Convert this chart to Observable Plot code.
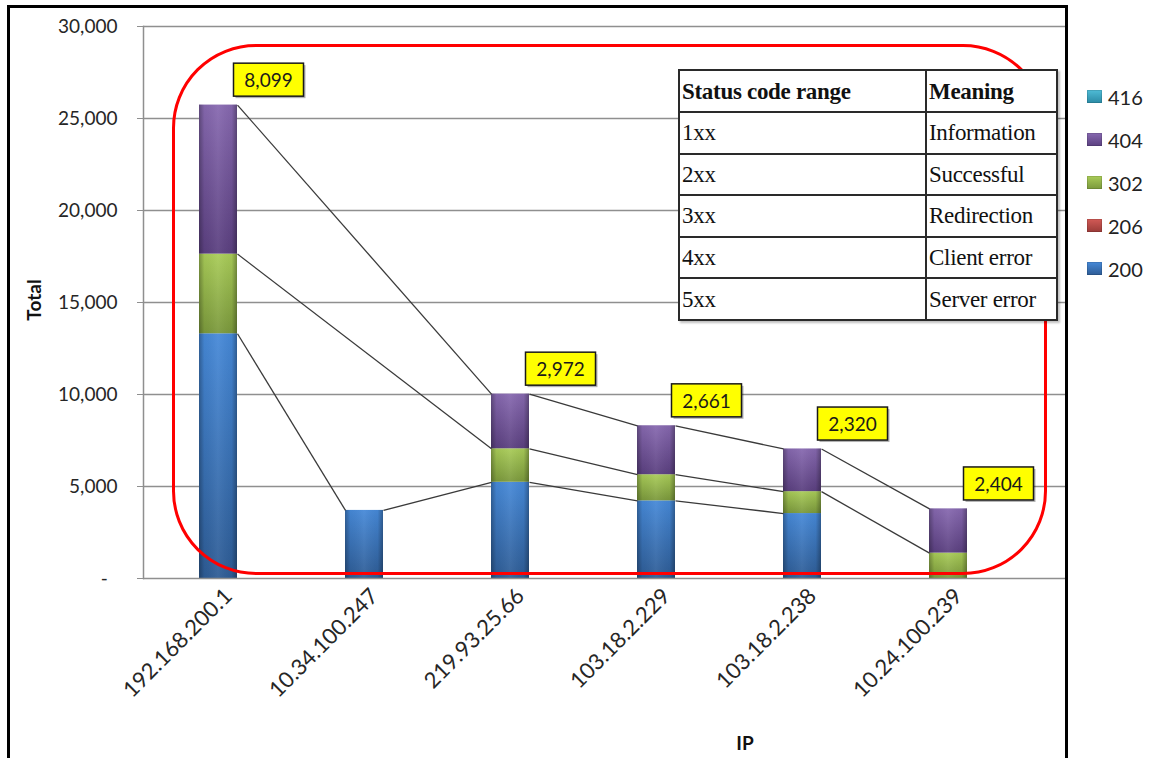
<!DOCTYPE html>
<html>
<head>
<meta charset="utf-8">
<script src="https://cdn.jsdelivr.net/npm/d3@7"></script>
<script src="https://cdn.jsdelivr.net/npm/@observablehq/plot@0.6"></script>
<style>
  html, body { margin: 0; padding: 0; background: #fff; }
  #chart { position: relative; width: 1155px; height: 758px; overflow: hidden; background: #fff; font-family: Lato, "Open Sans", sans-serif; }
  #chart > svg { position: absolute; left: 0; top: 0; }
  .frame { position: absolute; left: 7px; top: 5px; width: 1061px; height: 800px; border: 3px solid #000; box-sizing: border-box; pointer-events: none; }
  .highlight { position: absolute; left: 172px; top: 44px; width: 875px; height: 531px; border: 3px solid #ff0000; border-radius: 84px; box-sizing: border-box; pointer-events: none; }
  .ref-table { position: absolute; left: 678px; top: 69px; border-collapse: collapse; background: #fff; font-family: "Liberation Serif", "DejaVu Serif", serif; font-size: 23px; color: #111; box-shadow: 2px 2px 2px rgba(0,0,0,0.25); }
  .ref-table td { border: 2px solid #2a2a2a; padding: 0 0 0 2px; height: 39.6px; line-height: 1; vertical-align: middle; letter-spacing: -0.3px; }
  .ref-table td:first-child { width: 243px; }
  .ref-table td:last-child { width: 127px; }
  .ref-table tr.head td { font-weight: bold; height: 40px; }
  .legend { position: absolute; left: 1087px; top: 75px; font-size: 20px; color: #222; }
  .legend .item { display: flex; align-items: center; height: 43px; }
  .legend .sw { width: 15px; height: 13px; margin-right: 6px; box-shadow: inset 0 0 0 1px rgba(0,0,0,0.12); }
  .axis-title { position: absolute; font-weight: bold; font-size: 19px; color: #111; white-space: nowrap; }
</style>
</head>
<body>
<div id="chart"></div>
<script>
// Requests per client IP, split by HTTP status code
const ips = ["192.168.200.1", "10.34.100.247", "219.93.25.66", "103.18.2.229", "103.18.2.238", "10.24.100.239"];
const codes = ["200", "206", "302", "404", "416"];
const s200 = [13300, 3700, 5230, 4220, 3530, 0];
const s206 = [0, 0, 0, 0, 0, 0];
const s302 = [4330, 0, 1820, 1420, 1190, 1380];
const s404 = [8099, 0, 2972, 2661, 2320, 2404];
const s416 = [0, 0, 0, 0, 0, 0];
const yTicks = [0, 5000, 10000, 15000, 20000, 25000, 30000];

// Reference table of status code classes
const rangeCodes = ["1xx", "2xx", "3xx", "4xx", "5xx"];
const rangeMeanings = ["Information", "Successful", "Redirection", "Client error", "Server error"];

// Legend lists the series top-down
const legendOrder = ["416", "404", "302", "206", "200"];

const seriesByCode = {"200": s200, "206": s206, "302": s302, "404": s404, "416": s416};
const palette = {
  "200": ["#4689d8", "#2e5c95"],
  "206": ["#d25a56", "#9a3b38"],
  "302": ["#a9cc58", "#7b993c"],
  "404": ["#8769b0", "#5b4080"],
  "416": ["#4fbcd6", "#2b8aa5"]
};

// Long table for the stacked bars (stacked bottom-up in code order)
const rows = codes.flatMap(code => ips.map((ip, i) => ({ip, code, value: seriesByCode[code][i]})))
  .filter(d => d.value > 0);

// Series lines: join the cumulative top of each series between consecutive bars that carry it
const seriesLinks = [];
for (const code of codes) {
  const upto = codes.slice(0, codes.indexOf(code) + 1);
  const pts = ips.map((ip, i) => ({ip, present: seriesByCode[code][i] > 0, top: d3.sum(upto, c => seriesByCode[c][i])}))
    .filter(p => p.present);
  for (let k = 1; k < pts.length; ++k) {
    seriesLinks.push({from: pts[k - 1].ip, to: pts[k].ip, y1: pts[k - 1].top, y2: pts[k].top, code});
  }
}

// Value tags show the 404 count above each bar carrying 404s
const tags = ips.map((ip, i) => ({ip, total: d3.sum(codes, c => seriesByCode[c][i]), v404: s404[i]}))
  .filter(d => d.v404 > 0);

const fmt = d3.format(",");

// Shift link ends from band centres to the bar edges (right edge → left edge)
function toBarEdges(index, scales, values, dimensions, context, next) {
  const bw = typeof scales.x.bandwidth === "function" ? scales.x.bandwidth() : scales.x.bandwidth;
  const x1 = Array.from(values.x1, v => v + bw / 2);
  const x2 = Array.from(values.x2, v => v - bw / 2);
  return next(index, scales, {...values, x1, x2}, dimensions, context);
}

const plot = Plot.plot({
  width: 1155,
  height: 758,
  marginLeft: 143,
  marginRight: 90,
  marginTop: 26,
  marginBottom: 180,
  style: {fontFamily: "Lato, 'Open Sans', sans-serif", fontSize: "19px", color: "#262626", background: "transparent", overflow: "visible"},
  x: {domain: ips, range: [143, 1022], paddingInner: 0.74, paddingOuter: 0.37, axis: null},
  y: {domain: [0, 30000], axis: null},
  color: {domain: codes, range: codes.map(c => `url(#g${c})`)},
  marks: [
    Plot.ruleY(yTicks.filter(t => t > 0), {stroke: "#8f8f8f", strokeWidth: 1.3}),
    Plot.frame({anchor: "left", stroke: "#8f8f8f", strokeWidth: 1.5}),
    Plot.axisY({ticks: yTicks, tickSize: 6, tickPadding: 20, stroke: "#8f8f8f", fill: "#262626",
      tickFormat: d => d === 0 ? "-\u00a0\u00a0" : fmt(d), label: null}),
    Plot.axisX({tickRotate: -45, tickSize: 0, tickPadding: 14, dx: 10, fontSize: 22, fill: "#262626", label: null}),
    Plot.barY(rows, Plot.stackY({x: "ip", y: "value", fill: "code"})),
    Plot.barY(rows, Plot.stackY({x: "ip", y: "value", fill: "url(#barEdge)"})),
    Plot.ruleY([0], {stroke: "#8f8f8f", strokeWidth: 1.5}),
    Plot.link(seriesLinks, {x1: "from", x2: "to", y1: "y1", y2: "y2", stroke: "#3a3a3a", strokeWidth: 1.3, render: toBarEdges}),
    Plot.text(tags, {x: "ip", y: "total", text: d => fmt(d.v404), dx: 50, dy: -24, fill: "#1a1a1a", fontSize: 19, ariaDescription: "value-tag"})
  ]
});

const chart = document.getElementById("chart");
chart.appendChild(plot);

// Gradients for the bevelled bar look
const defs = d3.select(plot).insert("defs", ":first-child");
for (const code of codes) {
  const g = defs.append("linearGradient").attr("id", `g${code}`).attr("x1", 0).attr("y1", 0).attr("x2", 0).attr("y2", 1);
  g.append("stop").attr("offset", 0).attr("stop-color", palette[code][0]);
  g.append("stop").attr("offset", 1).attr("stop-color", palette[code][1]);
}
const edge = defs.append("linearGradient").attr("id", "barEdge").attr("x1", 0).attr("y1", 0).attr("x2", 1).attr("y2", 0);
[[0, "#000", 0.3], [0.14, "#000", 0.04], [0.5, "#fff", 0.06], [0.86, "#000", 0.04], [1, "#000", 0.32]]
  .forEach(([o, c, a]) => edge.append("stop").attr("offset", o).attr("stop-color", c).attr("stop-opacity", a));

// Yellow boxes behind the value tags
const tagGroup = plot.querySelector('g[aria-description="value-tag"]') || plot.querySelector('g[aria-label="text"]');
if (tagGroup) {
  tagGroup.querySelectorAll("text").forEach(t => {
    const b = t.getBBox();
    const w = 70, h = 33;
    const cx = b.x + b.width / 2, cy = b.y + b.height / 2;
    const tr = t.getAttribute("transform");
    const ns = "http://www.w3.org/2000/svg";
    const shadow = document.createElementNS(ns, "rect");
    const box = document.createElementNS(ns, "rect");
    for (const [r, off] of [[shadow, 2], [box, 0]]) {
      r.setAttribute("x", cx - w / 2 + off);
      r.setAttribute("y", cy - h / 2 + off);
      r.setAttribute("width", w);
      r.setAttribute("height", h);
      if (tr) r.setAttribute("transform", tr);
    }
    shadow.setAttribute("fill", "rgba(0,0,0,0.3)");
    box.setAttribute("fill", "#ffff00");
    box.setAttribute("stroke", "#1a1a1a");
    box.setAttribute("stroke-width", 1.5);
    t.parentNode.insertBefore(shadow, t);
    t.parentNode.insertBefore(box, t);
  });
}

// Outer frame, highlight outline, reference table, legend and axis titles
const frame = document.createElement("div");
frame.className = "frame";
chart.appendChild(frame);

const hl = document.createElement("div");
hl.className = "highlight";
chart.appendChild(hl);

const table = document.createElement("table");
table.className = "ref-table";
const head = table.insertRow();
head.className = "head";
head.insertCell().textContent = "Status code range";
head.insertCell().textContent = "Meaning";
rangeCodes.forEach((c, i) => {
  const r = table.insertRow();
  r.insertCell().textContent = c;
  r.insertCell().textContent = rangeMeanings[i];
});
chart.appendChild(table);

const legend = document.createElement("div");
legend.className = "legend";
for (const code of legendOrder) {
  const item = document.createElement("div");
  item.className = "item";
  const sw = document.createElement("div");
  sw.className = "sw";
  sw.style.background = `linear-gradient(${palette[code][0]}, ${palette[code][1]})`;
  const lab = document.createElement("span");
  lab.textContent = code;
  item.append(sw, lab);
  legend.appendChild(item);
}
chart.appendChild(legend);

const yTitle = document.createElement("div");
yTitle.className = "axis-title";
yTitle.textContent = "Total";
yTitle.style.left = "33px";
yTitle.style.top = "300px";
yTitle.style.transform = "translate(-50%, -50%) rotate(-90deg)";
chart.appendChild(yTitle);

const xTitle = document.createElement("div");
xTitle.className = "axis-title";
xTitle.textContent = "IP";
xTitle.style.left = "745px";
xTitle.style.top = "742px";
xTitle.style.transform = "translate(-50%, -50%)";
chart.appendChild(xTitle);
</script>
</body>
</html>
